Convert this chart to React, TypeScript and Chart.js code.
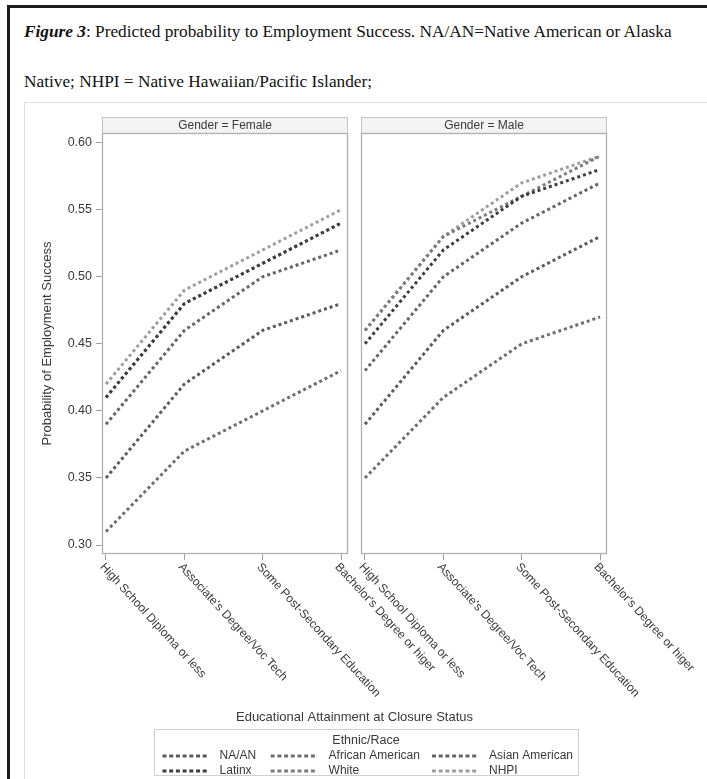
import React, { useEffect, useRef } from 'react';
import { Chart, registerables } from 'chart.js';

Chart.register(...registerables);

// ---- data ----
const categories = [
  'High School Diploma or less',
  "Associate's Degree/Voc Tech",
  'Some Post-Secondary Education',
  "Bachelor's Degree or higer",
];
const races = ['NA/AN', 'African American', 'Asian American', 'Latinx', 'White', 'NHPI'];
const panelTitles = ['Gender = Female', 'Gender = Male'];

const femaleNAAN = [0.35, 0.42, 0.46, 0.48];
const femaleAfricanAmerican = [0.31, 0.37, 0.40, 0.43];
const femaleAsianAmerican = [0.39, 0.46, 0.50, 0.52];
const femaleLatinx = [0.41, 0.48, 0.51, 0.54];
const femaleWhite = [0.41, 0.48, 0.51, 0.54];
const femaleNHPI = [0.42, 0.49, 0.52, 0.55];

const maleNAAN = [0.39, 0.46, 0.50, 0.53];
const maleAfricanAmerican = [0.35, 0.41, 0.45, 0.47];
const maleAsianAmerican = [0.43, 0.50, 0.54, 0.57];
const maleLatinx = [0.45, 0.52, 0.56, 0.58];
const maleWhite = [0.46, 0.53, 0.56, 0.59];
const maleNHPI = [0.46, 0.53, 0.57, 0.59];

const femaleSeries = [femaleNAAN, femaleAfricanAmerican, femaleAsianAmerican, femaleLatinx, femaleWhite, femaleNHPI];
const maleSeries = [maleNAAN, maleAfricanAmerican, maleAsianAmerican, maleLatinx, maleWhite, maleNHPI];

const yTitle = 'Probability of Employment Success';
const xTitle = 'Educational Attainment at Closure Status';
const legendTitle = 'Ethnic/Race';

// ---- styles ----
const raceColors = ['#5a5a5a', '#6e6e6e', '#656565', '#3e3e3e', '#7c7c7c', '#9e9e9e'];
const SANS = '"Liberation Sans", Arial, sans-serif';
const TEXT = '#3a3a3a';
const LABEL_ANGLE = (47.5 * Math.PI) / 180;

const panelPlugin = {
  id: 'panelDeco',
  beforeDatasetsDraw(chart: any) {
    const { ctx, chartArea, scales } = chart;
    const ps = [scales.xF, scales.xM];
    ctx.save();
    ps.forEach((s: any, p: number) => {
      const l = Math.round(s.left) + 0.5;
      const r = Math.round(s.right) - 0.5;
      const t = Math.round(chartArea.top) + 0.5;
      const b = Math.round(chartArea.bottom) - 0.5;
      // header strip
      ctx.fillStyle = '#f3f3f3';
      ctx.fillRect(l, t - 16, r - l, 16);
      ctx.strokeStyle = '#c4c4c4';
      ctx.lineWidth = 1;
      ctx.strokeRect(l, t - 16, r - l, 16);
      ctx.fillStyle = TEXT;
      ctx.font = `12px ${SANS}`;
      ctx.textAlign = 'center';
      ctx.textBaseline = 'middle';
      ctx.fillText(panelTitles[p], (l + r) / 2, t - 7.5);
      // plot box
      ctx.strokeStyle = '#b0b0b0';
      ctx.lineWidth = 1.3;
      ctx.strokeRect(l, t, r - l, b - t);
    });
    ctx.restore();
  },
  afterDraw(chart: any) {
    const { ctx, chartArea, scales } = chart;
    const ps = [scales.xF, scales.xM];
    ctx.save();
    // rotated category labels
    ctx.fillStyle = TEXT;
    ctx.font = `12px ${SANS}`;
    ctx.textAlign = 'left';
    ctx.textBaseline = 'middle';
    ps.forEach((s: any) => {
      categories.forEach((c, i) => {
        const x = s.getPixelForValue(i);
        ctx.save();
        ctx.translate(x - 4, chartArea.bottom + 11);
        ctx.rotate(LABEL_ANGLE);
        ctx.fillText(c, 0, 0);
        ctx.restore();
      });
    });
    const L = chartArea.left;
    const B = chartArea.bottom;
    // x title
    ctx.font = `13px ${SANS}`;
    ctx.textAlign = 'center';
    ctx.fillText(xTitle, (chartArea.left + chartArea.right) / 2, B + 163);
    // legend box
    ctx.strokeStyle = '#cfcfcf';
    ctx.lineWidth = 1;
    ctx.strokeRect(L + 52.5, B + 175.5, 424, 46);
    ctx.font = `12.5px ${SANS}`;
    ctx.fillText(legendTitle, L + 264, B + 187);
    ctx.font = `12px ${SANS}`;
    const colSample = [60.5, 168.7, 330];
    const colLabel = [117.6, 226.6, 387];
    const rowY = [202, 217];
    races.forEach((name, i) => {
      const ds = chart.data.datasets[i];
      const col = i % 3;
      const row = Math.floor(i / 3);
      const y = B + rowY[row];
      ctx.save();
      ctx.strokeStyle = ds.borderColor;
      ctx.lineWidth = ds.borderWidth;
      ctx.setLineDash([4, 2.7]);
      ctx.beginPath();
      ctx.moveTo(L + colSample[col], y);
      ctx.lineTo(L + colSample[col] + 46, y);
      ctx.stroke();
      ctx.restore();
      ctx.fillStyle = TEXT;
      ctx.textAlign = 'left';
      ctx.fillText(name, L + colLabel[col], y);
    });
    ctx.restore();
  },
};

function ChartPanel() {
  const ref = useRef<HTMLCanvasElement>(null);
  useEffect(() => {
    if (!ref.current) return;
    const mk = (vals: number[], i: number, axis: string, suffix: string) => ({
      label: races[i] + suffix,
      data: vals.map((y, k) => ({ x: k, y })),
      xAxisID: axis,
      yAxisID: 'y',
      borderColor: raceColors[i],
      borderWidth: 3,
      borderDash: [3, 3],
      pointRadius: 0,
      fill: false,
      tension: 0,
    });
    const datasets = [
      ...femaleSeries.map((v, i) => mk(v, i, 'xF', '')),
      ...maleSeries.map((v, i) => mk(v, i, 'xM', ' (Male)')),
    ];
    const xAxis = (weight: number, stackWeight: number) => ({
      type: 'linear',
      position: 'bottom',
      stack: 'x',
      stackWeight,
      weight,
      min: -0.051,
      max: 3.089,
      ticks: { display: false, stepSize: 1, includeBounds: false },
      grid: { drawOnChartArea: false, drawTicks: true, tickLength: 6, color: '#a0a0a0' },
      border: { display: false },
      afterFit(s: any) { s.height = 8; },
    });
    const chart = new Chart(ref.current, {
      type: 'line',
      data: { datasets },
      plugins: [panelPlugin],
      options: {
        animation: false,
        responsive: true,
        maintainAspectRatio: false,
        layout: { padding: { left: 0, right: 100, top: 30, bottom: 217 } },
        plugins: { legend: { display: false }, tooltip: { enabled: false } },
        scales: {
          y: {
            type: 'linear',
            position: 'left',
            min: 0.2933,
            max: 0.6072,
            ticks: {
              stepSize: 0.05,
              includeBounds: false,
              padding: 4,
              color: TEXT,
              font: { size: 12.5, family: SANS },
              callback: (v: any) => Number(v).toFixed(2),
            },
            grid: { drawOnChartArea: false, drawTicks: true, tickLength: 6, color: '#a0a0a0' },
            border: { display: false },
            title: {
              display: true,
              text: yTitle,
              color: TEXT,
              font: { size: 13, family: SANS },
              padding: { top: 15, bottom: 0 },
            },
            afterFit(s: any) { s.width = 77; },
          },
          xF: xAxis(1, 246),
          gap: {
            type: 'linear',
            position: 'bottom',
            stack: 'x',
            stackWeight: 13,
            weight: 2,
            min: 0,
            max: 1,
            ticks: { display: false },
            grid: { display: false },
            border: { display: false },
            afterFit(s: any) { s.height = 8; },
          },
          xM: xAxis(3, 246),
        },
      } as any,
    } as any);
    return () => chart.destroy();
  }, []);
  return (
    <div style={{ position: 'absolute', left: 25, top: 103, width: 682, height: 676 }}>
      <canvas ref={ref} />
    </div>
  );
}

export default function App() {
  return (
    <div style={{ position: 'fixed', inset: 0, overflow: 'hidden', background: '#fff' }}>
      <div
        style={{
          position: 'absolute', left: 7, top: 5, width: 760, height: 820,
          border: '3px solid #1c1c1c', boxSizing: 'border-box',
        }}
      />
      <div
        style={{
          position: 'absolute', left: 24, top: 7, width: 700,
          fontFamily: '"Liberation Serif", "Times New Roman", serif', fontSize: 17.3,
          lineHeight: '50px', color: '#111', whiteSpace: 'nowrap',
        }}
      >
        <div><b><i>Figure 3</i></b>: Predicted probability to Employment Success. NA/AN=Native American or Alaska</div>
        <div>Native; NHPI = Native Hawaiian/Pacific Islander;</div>
      </div>
      <div
        style={{
          position: 'absolute', left: 24, top: 102, width: 720, height: 720,
          border: '1px solid #dedede', boxSizing: 'border-box',
        }}
      />
      <ChartPanel />
    </div>
  );
}
